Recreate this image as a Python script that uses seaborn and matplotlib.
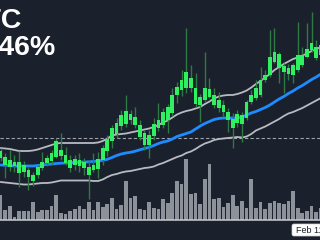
import numpy as np
import matplotlib
matplotlib.use("Agg")
import matplotlib.pyplot as plt
import seaborn as sns
from matplotlib.patches import FancyBboxPatch

# ---- data (chart units) ----
opens = [82, 75, 73, 74, 67, 68, 63, 59, 65, 72,
         77, 79, 83, 84, 77, 72, 75, 74, 72, 65,
         70, 71, 80, 89, 99, 106, 114, 116, 120, 115,
         103, 95, 95, 104, 112, 115, 120, 127, 145, 150,
         152, 152, 136, 135, 140, 143, 135, 132, 128, 120,
         112, 117, 116, 122, 138, 142, 145, 160, 165, 178,
         172, 168, 166, 165, 170, 175, 183, 190, 182, 185]
closes = [89, 83, 80, 78, 78, 75, 70, 65, 73, 78,
          82, 87, 99, 90, 85, 80, 81, 80, 78, 73,
          75, 81, 92, 101, 112, 117, 125, 129, 126, 123,
          115, 107, 105, 116, 120, 128, 133, 145, 153, 160,
          168, 162, 152, 143, 152, 151, 145, 140, 135, 128,
          121, 126, 125, 138, 145, 152, 160, 165, 183, 188,
          186, 174, 172, 175, 185, 185, 191, 197, 193, 195]
highs = [92, 87, 90, 85, 89, 79, 73, 68, 75, 88,
         85, 90, 102, 107, 93, 85, 85, 87, 82, 80,
         87, 88, 95, 105, 115, 122, 130, 145, 130, 133,
         120, 110, 110, 122, 137, 132, 136, 152, 158, 170,
         212, 175, 167, 146, 188, 162, 152, 148, 140, 132,
         127, 130, 128, 140, 150, 160, 173, 170, 210, 212,
         188, 177, 176, 177, 218, 193, 217, 228, 200, 200]
lows = [79, 62, 69, 68, 53, 63, 50, 54, 62, 70,
        74, 75, 82, 80, 75, 68, 70, 68, 65, 41,
        68, 62, 75, 84, 92, 102, 110, 113, 116, 112,
        100, 90, 82, 100, 109, 112, 107, 124, 137, 144,
        147, 148, 133, 118, 138, 142, 132, 128, 124, 108,
        92, 113, 98, 120, 136, 140, 143, 158, 163, 177,
        157, 147, 160, 157, 168, 173, 182, 188, 180, 182]
volumes = [25, 10, 14, 3.3, 9.3, 8.7, 9.3, 18.3, 7.7, 10,
           10, 14.3, 25.3, 7.3, 6, 9, 11, 14.3, 10.7, 17.7,
           9.7, 18, 12.7, 15.7, 21.7, 11, 15, 39, 22.3, 24,
           11, 10, 18, 12.3, 11, 21, 17.3, 26.7, 39, 36,
           61, 26, 27.3, 15.7, 41, 55.7, 21, 22, 13.3, 17.3,
           25, 14, 19, 11.7, 41, 11.7, 18, 11, 16.7, 19.3,
           17.3, 16, 19, 29, 12.3, 6.7, 9.3, 14.3, 8.3, 11.7]
upper = [92, 91.5, 91, 90, 89, 89, 89, 89.5, 90.5, 92,
         93.5, 95, 96.5, 97, 97, 97, 97, 97, 97, 97,
         97, 97.5, 99, 101.5, 104.5, 105.5, 106, 106.5, 107.5, 108.5,
         109.5, 110.5, 111.5, 113, 115, 117.5, 119.5, 122.5, 125.5, 127.5,
         129, 130, 131.5, 133, 136, 138.5, 141.5, 143.5, 144.5, 145,
         145, 146, 147.5, 149.5, 152.5, 156, 159, 162.5, 166, 170,
         173, 176, 178.5, 181, 182.5, 184.5, 186.5, 189, 191, 193]
middle = [75, 74.7, 74.4, 74, 74, 74, 74, 74, 74.5, 75,
          75.5, 76, 76.5, 76.8, 77, 77.2, 77.5, 77.8, 78, 78.2,
          78.5, 79, 79.7, 80.7, 82.5, 84.5, 86, 87, 87.7, 88.8,
          90.2, 91.5, 92.7, 94.5, 96.5, 98, 99, 101, 103.5, 105,
          106.5, 108, 111, 114, 116.5, 118.5, 120.5, 121.5, 122, 122,
          122, 122, 123, 125, 127, 128.5, 130.5, 132.5, 135, 138,
          141, 143.5, 146.5, 149, 152, 154.5, 157.5, 160.5, 163, 166]
lower = [58, 57.5, 57, 56.5, 56, 55.5, 55.5, 56, 56.5, 57,
         57, 57.5, 58.5, 59.5, 59.5, 59.5, 59.5, 59.5, 59.5, 59.5,
         59, 59, 60.5, 63, 65, 66, 67.5, 68.5, 69, 70,
         71, 72, 72.5, 73.5, 75.5, 77, 79, 81, 83, 84.5,
         87, 88.5, 91, 94, 96.5, 98, 100, 101, 101.5, 102,
         102.5, 103, 102.5, 103.5, 106, 109.5, 111.5, 113.5, 116, 118.5,
         121, 124, 126.5, 128, 130, 132, 134.5, 137, 139.5, 142]
ref_level = 102
volume_base = 20
symbol = "BTC"
change = "+2.46%"
date_label = "Feb 11, 2024"

# ---- style ----
BG = "#1a202c"
GREEN = "#2ef060"
WICK = "#2f7a44"
GREY = "#b8bbc1"
BLUE = "#1e8cff"
VOL = "#8d9199"

sns.set_theme(style="dark")
plt.rcParams["font.family"] = ["Liberation Sans", "DejaVu Sans"]

fig = plt.figure(figsize=(3.2, 2.4), dpi=100, facecolor=BG)
n = len(closes)
idx = np.arange(n)
xmin, xmax = -0.12, 68.8

# volume panel
vax = fig.add_axes([0, volume_base / 240, 1, 1 - volume_base / 240], zorder=0)
vax.set_facecolor(BG)
sns.barplot(x=idx, y=volumes, native_scale=True, width=0.8, color=VOL,
            saturation=1, errorbar=None, ax=vax, linewidth=0)
vax.set_xlim(xmin, xmax)
vax.set_ylim(0, 240 - volume_base)
vax.axis("off")

# price panel
ax = fig.add_axes([0, 0, 1, 1], zorder=1)
ax.set_facecolor("none")
ax.axhline(volume_base, color="#c9ccd1", lw=1.1, zorder=1)
ax.axhline(ref_level, color="#9ea3aa", lw=0.8, ls=(0, (3, 2)), zorder=1)

sns.lineplot(x=idx, y=upper, color=GREY, lw=1.3, ax=ax, zorder=2)
sns.lineplot(x=idx, y=lower, color=GREY, lw=1.3, ax=ax, zorder=2)
sns.lineplot(x=idx, y=middle, color=BLUE, lw=2.0, ax=ax, zorder=2)

o = np.array(opens)
c = np.array(closes)
ax.vlines(idx, lows, highs, color=WICK, lw=1.0, zorder=3)
ax.bar(idx, c - o, bottom=o, width=0.8, color=GREEN, linewidth=0, zorder=4)

ax.set_xlim(xmin, xmax)
ax.set_ylim(0, 240)
ax.axis("off")

# header text
fig.text(21.5 / 320, 1 - 28 / 240, symbol, ha="right", va="baseline",
         fontsize=20.5, fontweight="bold", color="white")
fig.text(56 / 320, 1 - 55 / 240, change, ha="right", va="baseline",
         fontsize=20.5, fontweight="bold", color="white")

# date tag
ov = fig.add_axes([0, 0, 1, 1], zorder=5)
ov.set_xlim(0, 320)
ov.set_ylim(240, 0)
ov.axis("off")
ov.add_patch(FancyBboxPatch((292, 224), 40, 12,
                            boxstyle="round,pad=0,rounding_size=2",
                            fc="white", ec="#d0d0d0", lw=0.5))
ov.text(296, 230.5, date_label, fontsize=6.5, color="#1a202c",
        va="center", ha="left")

fig.savefig("out.png", dpi=100, facecolor=BG)
